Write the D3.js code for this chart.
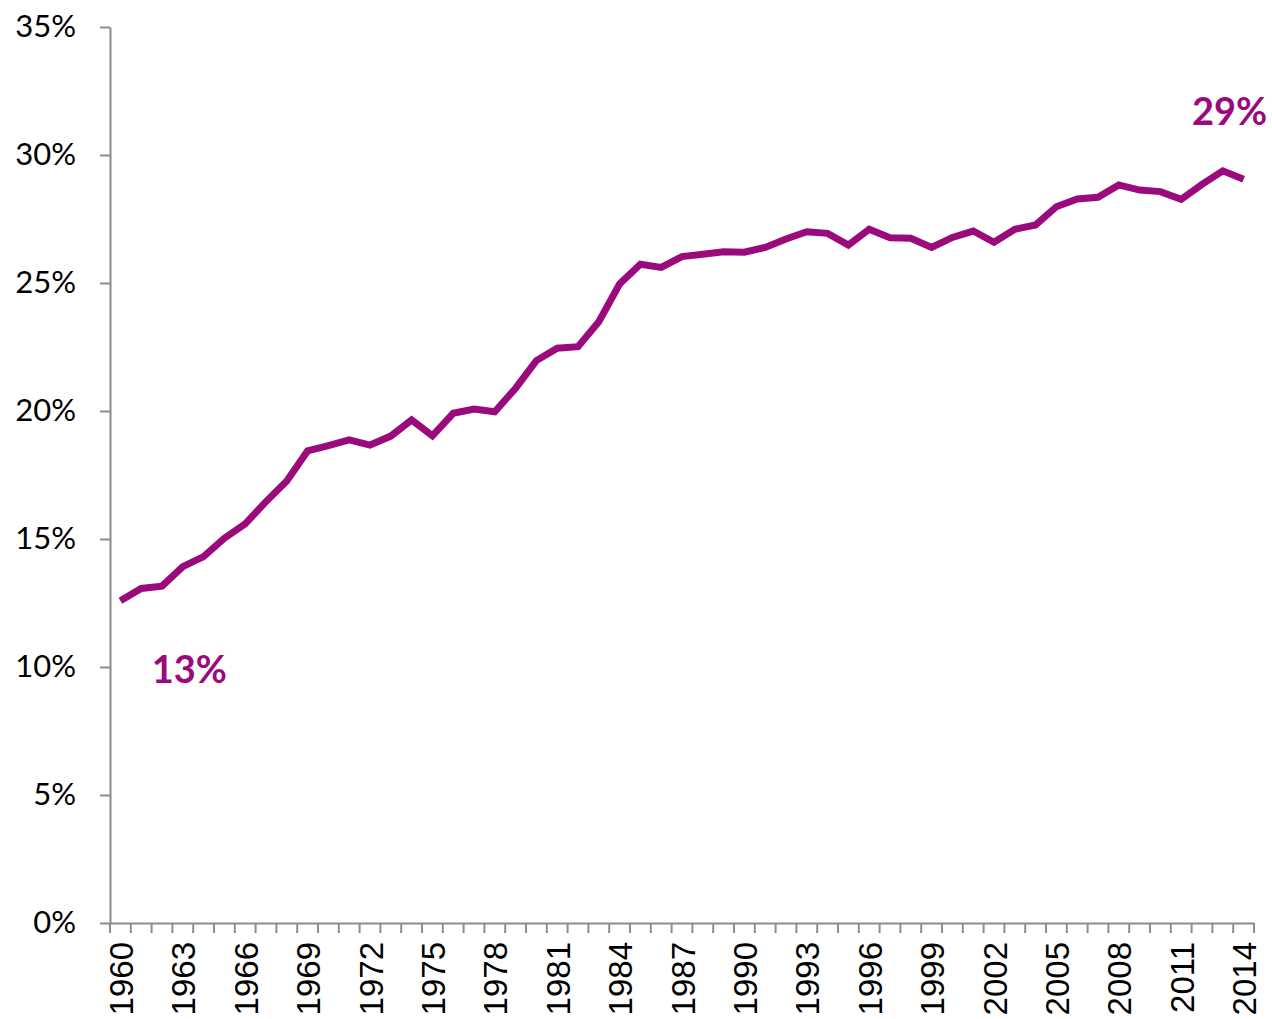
<!DOCTYPE html>
<html>
<head>
<meta charset="utf-8">
<script src="https://cdn.jsdelivr.net/npm/d3@7"></script>
<style>
  body { margin: 0; background: #fff; }
  .y.axis text { font-family: Lato, "Open Sans", sans-serif; font-size: 31px; fill: #000; }
  .x.axis text { font-family: "Liberation Sans", Arial, sans-serif; font-size: 33px; fill: #000; }
  .axis path, .axis line { stroke: #8c8c8c; stroke-width: 2px; }
</style>
</head>
<body>
<div id="chart-area"></div>
<script>
// share line chart, 1960-2014

const years = d3.range(1960, 2015)
const values = [
  12.59, 13.07, 13.16, 13.92, 14.31, 15.03, 15.59, 16.46, 17.27, 18.44,
  18.65, 18.87, 18.67, 19.02, 19.65, 19.03, 19.91, 20.08, 19.97, 20.89,
  21.97, 22.45, 22.51, 23.49, 24.96, 25.73, 25.61, 26.03, 26.12, 26.22,
  26.2, 26.39, 26.72, 27.0, 26.94, 26.48, 27.1, 26.77, 26.75, 26.39,
  26.78, 27.03, 26.59, 27.1, 27.27, 27.98, 28.28, 28.35, 28.83, 28.63,
  28.57, 28.27, 28.85, 29.38, 29.05
]
const yTicks = [0, 5, 10, 15, 20, 25, 30, 35]
const labelYears = years.filter((d, i) => i % 3 === 0)
const firstLabel = "13%"
const lastLabel = "29%"

const COLOR = "#9a0a7c"

const MARGIN = { LEFT: 110, RIGHT: 18, TOP: 27, BOTTOM: 96 }
const WIDTH = 1272 - MARGIN.LEFT - MARGIN.RIGHT
const HEIGHT = 1019 - MARGIN.TOP - MARGIN.BOTTOM

const svg = d3.select("#chart-area").append("svg")
    .attr("width", WIDTH + MARGIN.LEFT + MARGIN.RIGHT)
    .attr("height", HEIGHT + MARGIN.TOP + MARGIN.BOTTOM)

const g = svg.append("g")
    .attr("transform", `translate(${MARGIN.LEFT}, ${MARGIN.TOP})`)

const x = d3.scaleBand()
    .domain(years)
    .range([0, WIDTH])
    .padding(0)

const y = d3.scaleLinear()
    .domain([0, 35])
    .range([HEIGHT, 0])

const cx = d => x(d) + x.bandwidth() / 2

// Y axis
const yAxisCall = d3.axisLeft(y)
    .tickValues(yTicks)
    .tickFormat(d => d + "%")
    .tickSize(10)
    .tickSizeOuter(0)
    .tickPadding(24)

g.append("g")
    .attr("class", "y axis")
    .call(yAxisCall)

// X axis - labels every 3 years, ticks on category boundaries
const xAxisCall = d3.axisBottom(x)
    .tickValues(labelYears)
    .tickSize(0)
    .tickSizeOuter(0)

const xAxisGroup = g.append("g")
    .attr("class", "x axis")
    .attr("transform", `translate(0, ${HEIGHT})`)
    .call(xAxisCall)

xAxisGroup.selectAll(".tick text")
    .attr("transform", "rotate(-90)")
    .attr("x", -19)
    .attr("y", 1)
    .attr("dy", "0.35em")
    .attr("text-anchor", "end")

const bounds = years.map(d => x(d)).concat([x.range()[1]])
xAxisGroup.selectAll(".bound")
    .data(bounds)
    .enter().append("line")
    .attr("class", "bound")
    .attr("x1", d => d)
    .attr("x2", d => d)
    .attr("y1", 0)
    .attr("y2", 10)

// line
const data = years.map((yr, i) => ({ year: yr, value: values[i] }))

const line = d3.line()
    .x(d => cx(d.year))
    .y(d => y(d.value))

g.append("path")
    .datum(data)
    .attr("fill", "none")
    .attr("stroke", COLOR)
    .attr("stroke-width", 7)
    .attr("stroke-linejoin", "miter")
    .attr("d", line)

// end labels
const first = data[0]
const last = data[data.length - 1]

g.append("text")
    .attr("x", cx(first.year) + 69)
    .attr("y", y(first.value) + 82)
    .attr("text-anchor", "middle")
    .attr("font-family", "Lato, sans-serif")
    .attr("font-weight", "bold")
    .attr("font-size", "38px")
    .attr("fill", COLOR)
    .text(firstLabel)

g.append("text")
    .attr("x", cx(last.year) - 14)
    .attr("y", y(last.value) - 54)
    .attr("text-anchor", "middle")
    .attr("font-family", "Lato, sans-serif")
    .attr("font-weight", "bold")
    .attr("font-size", "38px")
    .attr("fill", COLOR)
    .text(lastLabel)
</script>
</body>
</html>
